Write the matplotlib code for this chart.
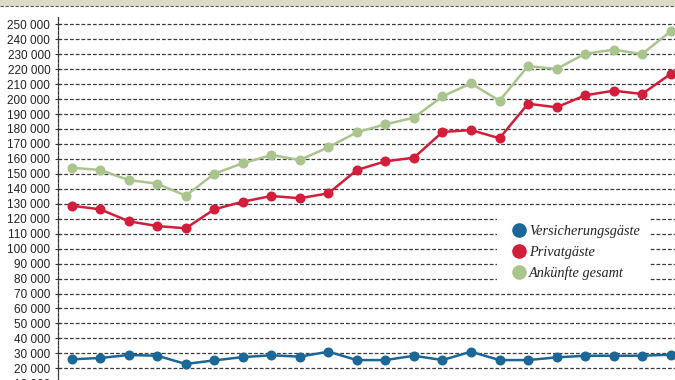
import numpy as np
import matplotlib.pyplot as plt
from matplotlib.lines import Line2D
from matplotlib.patches import Rectangle

# values (22 periods)
versicherung = [26000, 26900, 28900, 28400, 22900, 25300, 27500, 28700, 27800, 31100, 25500,
                25500, 28400, 25500, 31100, 25500, 25500, 27300, 28400, 28400, 28400, 29100]
privat = [128700, 126300, 118300, 115100, 113600, 126300, 131400, 135200, 133700, 137000, 152600,
          158400, 160800, 178000, 179300, 173800, 196900, 194500, 202500, 205600, 203400, 216800]
gesamt = [154100, 152600, 145900, 143400, 135400, 150100, 157100, 162600, 159300, 167800, 177800,
          183100, 187600, 201800, 210500, 198900, 222100, 220100, 230300, 233000, 230100, 245300]
labels = ['Versicherungsgäste', 'Privatgäste', 'Ankünfte gesamt']
yticks = list(range(0, 250001, 10000))

col_blue = '#1b6797'
col_red = '#d21d3b'
col_green = '#a9c48d'

W, H = 675, 380
fig = plt.figure(figsize=(W / 100, H / 100), dpi=100)
fig.patch.set_facecolor('white')

# beige strip on top with dashed rule
fig.patches.append(Rectangle((0, 1 - 6 / H), 1, 6 / H, transform=fig.transFigure,
                             facecolor='#dcdcc6', edgecolor='none', zorder=0))
fig.add_artist(Line2D([0, 1], [1 - 6 / H, 1 - 6 / H], transform=fig.transFigure,
                      color='#555555', lw=0.8, ls=(0, (3, 1.5))))

# axes mapped so that 0 sits below the picture edge (the reference is cropped there)
px_per_unit = 14.957 / 10000
y_top = 255000
y_bot = 0
top_px = 24.3 - (y_top - 250000) * px_per_unit
bot_px = 368.3 + (20000 - y_bot) * px_per_unit
left_px = 58
ax = fig.add_axes([left_px / W, (H - bot_px) / H, 1 - left_px / W, (bot_px - top_px) / H])
ax.set_facecolor('none')

x = np.arange(len(gesamt))
spacing = 28.52
ax.set_xlim(-(71.7 - left_px) / spacing, (W - 71.7) / spacing)
ax.set_ylim(y_bot, y_top)

for v in yticks:
    ax.axhline(v, color='#3a3a3a', lw=0.9, ls=(0, (3, 1.6)), zorder=1)

ms = 6.2
ax.plot(x, gesamt, color=col_green, lw=1.8, marker='o', ms=ms, zorder=3)
ax.plot(x, privat, color=col_red, lw=1.8, marker='o', ms=ms, zorder=3)
ax.plot(x, versicherung, color=col_blue, lw=1.8, marker='o', ms=ms, zorder=3)

for s in ['top', 'right', 'bottom']:
    ax.spines[s].set_visible(False)
ax.spines['left'].set_linestyle((0, (2.5, 1.2)))
ax.spines['left'].set_color('#333333')
ax.spines['left'].set_linewidth(0.9)

ax.set_xticks([])
ax.set_yticks(yticks)
ax.set_yticklabels([f'{v:,}'.replace(',', ' ') for v in yticks])
ax.tick_params(axis='y', direction='inout', length=5, width=0.8, color='#333333', pad=3,
               labelsize=8.5, labelcolor='#222222')
for t in ax.get_yticklabels():
    t.set_fontfamily(['Liberation Sans', 'DejaVu Sans'])

# legend with white patch behind it
ax.add_patch(Rectangle((497 / W, 1 - 286 / H), (650 - 497) / W, (286 - 211) / H,
                       transform=fig.transFigure, facecolor='white', edgecolor='none', zorder=2))
handles = [Line2D([], [], ls='none', marker='o', ms=9.5, color=c) for c in (col_blue, col_red, col_green)]
leg = fig.legend(handles, labels, loc='upper left', bbox_to_anchor=(503 / W, 1 - 218 / H),
                 frameon=False, handletextpad=0.1, labelspacing=0.52, borderpad=0,
                 handlelength=1.2, prop={'family': ['Liberation Serif', 'DejaVu Serif'],
                                         'style': 'italic', 'size': 10.3})
for t in leg.get_texts():
    t.set_color('#222222')

fig.savefig('out.png', dpi=100)
